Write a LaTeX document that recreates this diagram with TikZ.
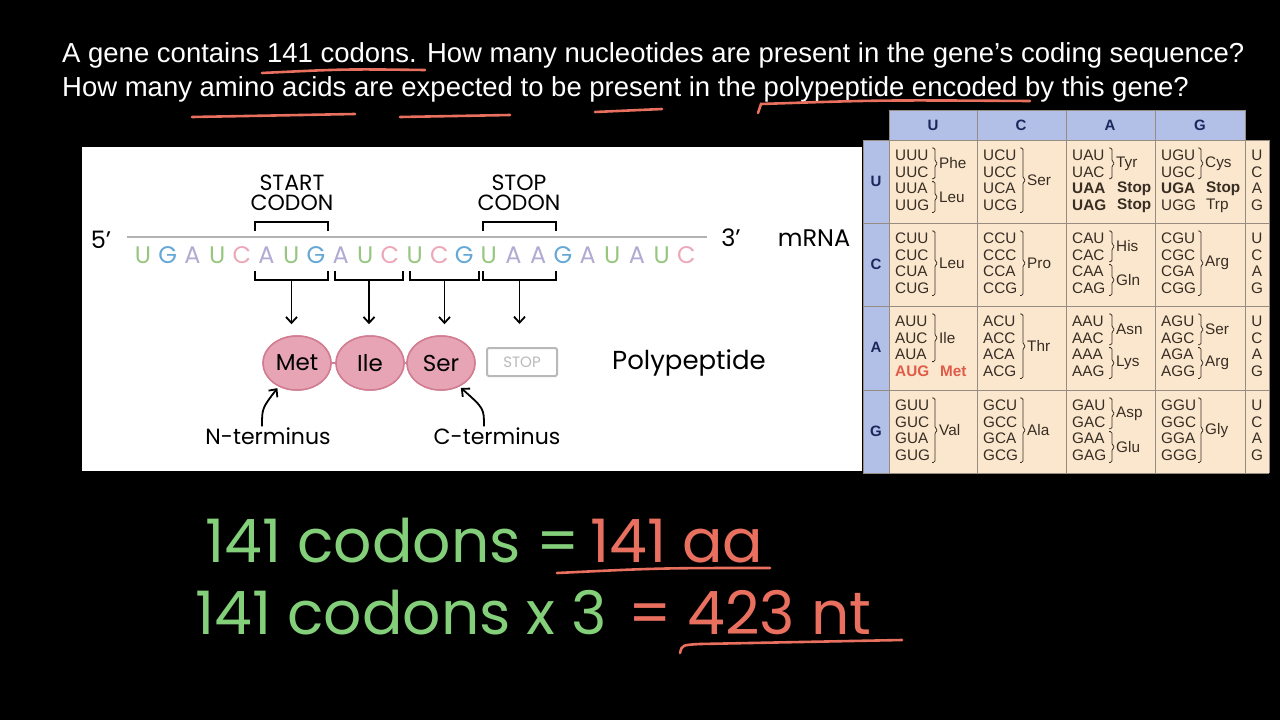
\documentclass[tikz,border=0pt]{standalone}
\usepackage{fontspec}
\setmainfont{Liberation Sans}
\newfontfamily\handfont{Poppins}
\usepackage{tikz}
\usetikzlibrary{arrows.meta,positioning,shapes.geometric}
\definecolor{hlred}{RGB}{233,112,95}
\definecolor{hlgreen}{RGB}{132,208,122}
\definecolor{ntU}{RGB}{150,198,128}
\definecolor{ntG}{RGB}{100,168,214}
\definecolor{ntA}{RGB}{178,170,210}
\definecolor{ntC}{RGB}{236,168,184}
\definecolor{aapink}{RGB}{230,164,180}
\definecolor{aaedge}{RGB}{210,124,146}
\definecolor{hdblue}{RGB}{178,192,232}
\definecolor{cellbg}{RGB}{251,231,206}
\definecolor{gridc}{RGB}{150,140,130}
\definecolor{navy}{RGB}{28,38,92}
\definecolor{tabtxt}{RGB}{55,45,35}
\definecolor{metred}{RGB}{222,92,72}

% one cell of the codon table: column x, row y, four codons
\newcommand{\codonset}[6]{%
  \foreach \cd [count=\k from 0] in {#3,#4,#5,#6}
    \node[cdn] (cd-#1-#2-\k) at ({#1+6},{#2+15+16.8*\k}) {\cd};}
% brace over lines #3..#4 with amino acid #5
\newcommand{\aagroup}[5]{%
  \pgfmathsetmacro\ya{#2+15+16.8*#3-7}
  \pgfmathsetmacro\yb{#2+15+16.8*#4+7}
  \pgfmathsetmacro\ym{(\ya+\yb)/2}
  \draw[brc] ({#1+43},\ya) -- ({#1+46},\ya) -- ({#1+46},\ym-2) -- ({#1+49},\ym)
    -- ({#1+46},\ym+2) -- ({#1+46},\yb) -- ({#1+43},\yb);
  \node[aa] (aa-#1-#2-#3) at ({#1+50},\ym) {#5};}
% amino acid on a single line
\newcommand{\aaline}[4]{%
  \node[aa] (aa-#1-#2-#3) at ({#1+51},{#2+15+16.8*#3}) {#4};}

\begin{document}
\begin{tikzpicture}[x=1pt,y=-1pt,
    qtext/.style={text=white,font=\fontsize{27.5}{30}\selectfont,anchor=base west,inner sep=0},
    hand/.style={font=\handfont\fontsize{22}{24}\selectfont,inner sep=1pt},
    nt/.style={font=\handfont\fontsize{24}{26}\selectfont,inner sep=0},
    hiline/.style={hlred,line width=2.6pt,line cap=round},
    brk/.style={line width=1.8pt},
    arr/.style={line width=1.8pt,-{Straight Barb[length=6pt,width=11pt]}},
    amino/.style={ellipse,fill=aapink,draw=aaedge,line width=1.5pt,minimum width=68pt,
      minimum height=54pt,inner sep=0,font=\handfont\fontsize{23}{24}\selectfont},
    cdn/.style={anchor=west,inner sep=0,text=tabtxt,font=\fontsize{15.3}{16}\selectfont},
    aa/.style={anchor=west,inner sep=0,text=tabtxt,font=\fontsize{15.3}{16}\selectfont},
    hdr/.style={text=navy,font=\bfseries\fontsize{15}{16}\selectfont,inner sep=0},
    brc/.style={tabtxt,line width=0.8pt,rounded corners=1.5pt},
    eqn/.style={font=\handfont\fontsize{60}{62}\selectfont,anchor=base west,inner sep=0}]
  \useasboundingbox (0,0) rectangle (1280,720);
  \fill[black] (0,0) rectangle (1280,720);

  % question
  \node[qtext] (q1) at (62,62) {A gene contains 141 codons. How many nucleotides are present in the gene’s coding sequence?};
  \node[qtext] (q2) at (62,96) {How many amino acids are expected to be present in the polypeptide encoded by this gene?};
  \draw[hiline] (262,73) .. controls (345,69) .. (425,70);
  \draw[hiline] (192,117) -- (355,114);
  \draw[hiline] (400,117) -- (510,115);
  \draw[hiline] (595,112) -- (662,109);
  \draw[hiline] (758,113) -- (761,104) .. controls (880,100) .. (1030,101);

  % mRNA panel
  \fill[white] (82,147) rectangle (862,471);
  \node[nt] (five) at (101,240) {5’};
  \node[nt] (three) at (731,238) {3’};
  \node[nt] (mrna) at (814,238) {mRNA};
  \draw[gray!60,line width=1.5pt] (127,237) -- (707,237);
  \foreach \ch/\cl [count=\i from 0] in {U/ntU,G/ntG,A/ntA,U/ntU,C/ntC,A/ntA,U/ntU,G/ntG,A/ntA,U/ntU,C/ntC,U/ntU,C/ntC,G/ntG,U/ntU,A/ntA,A/ntA,G/ntG,A/ntA,U/ntU,A/ntA,U/ntU,C/ntC}
    \node[nt,text=\cl] (l\i) at ({143+24.7*\i},255) {\ch};

  \node[hand,align=center] (start) at (292,193) {START\\[-4pt]CODON};
  \node[hand,align=center] (stop) at (519,193) {STOP\\[-4pt]CODON};
  \draw[brk] (255,231) -- (255,222) -- (328,222) -- (328,231);
  \draw[brk] (483,231) -- (483,222) -- (556,222) -- (556,231);

  \foreach \a/\b/\n in {255/328/1,335/403/2,410/479/3,483/556/4}{
    \draw[brk] (\a,271) -- (\a,280) -- (\b,280) -- (\b,271);
    \coordinate (b\n) at ({(\a+\b)/2},280);
  }

  \node[amino] (met) at (297,363) {Met};
  \node[amino] (ile) at (370,363) {Ile};
  \node[amino] (ser) at (441,363) {Ser};
  \draw[aaedge,line width=1.5pt] (met) -- (ile);
  \draw[aaedge,line width=1.5pt] (ile) -- (ser);
  \node[amino] (met) at (297,363) {Met};
  \node[amino] (ile) at (370,363) {Ile};
  \node[amino] (ser) at (441,363) {Ser};
  \node[draw=gray!55,text=gray!55,line width=2pt,rounded corners=1.5pt,minimum width=70pt,
    minimum height=28pt,font=\handfont\fontsize{15}{16}\selectfont] (stp) at (522,362) {STOP};
  \node[hand,font=\handfont\fontsize{26}{28}\selectfont] (poly) at (689,363) {Polypeptide};

  \draw[arr,shorten >=11pt] (b1) -- (b1 |- met.north);
  \draw[arr,shorten >=11pt] (b2) -- (b2 |- ile.north);
  \draw[arr,shorten >=11pt] (b3) -- (b3 |- ser.north);
  \draw[arr,shorten >=23pt] (b4) -- (b4 |- stp.north);

  \node[hand] (nterm) at (268,436) {N-terminus};
  \node[hand] (cterm) at (497,436) {C-terminus};
  \draw[arr,shorten >=2pt] ([xshift=-6pt]nterm.north) .. controls +(0,-18) .. (met.232);
  \draw[arr,shorten >=2pt] ([xshift=-13pt]cterm.north) .. controls +(0,-18) .. (ser.308);

  % codon table
  \fill[hdblue] (889,110) rectangle (1245,140);
  \fill[hdblue] (863,140) rectangle (889,473);
  \fill[cellbg] (889,140) rectangle (1269,473);
  \draw[gridc,line width=1pt] (889,110) -- (1245,110) -- (1245,140);
  \foreach \x in {889,977,1066,1155} \draw[gridc,line width=1pt] (\x,110) -- (\x,473);
  \draw[gridc,line width=1pt] (1245,140) -- (1245,473);
  \foreach \y in {140,223,306,390,473} \draw[gridc,line width=1pt] (863,\y) -- (1269,\y);
  \draw[gridc,line width=1pt] (863,140) -- (863,473);
  \draw[gridc,line width=1pt] (1269,140) -- (1269,473);

  \foreach \t/\x in {U/933,C/1021,A/1110,G/1200} \node[hdr] (h\t) at (\x,125) {\t};
  \foreach \t/\y in {U/140,C/223,A/306,G/390}{
    \node[hdr] (r\t) at (876,{\y+41}) {\t};
    \foreach \b [count=\k from 0] in {U,C,A,G}
      \node[cdn,anchor=center] (t\t\b) at (1257,{\y+15+16.8*\k}) {\b};
  }

  % first base U
  \codonset{889}{140}{UUU}{UUC}{UUA}{UUG}
  \aagroup{889}{140}{0}{1}{Phe} \aagroup{889}{140}{2}{3}{Leu}
  \codonset{977}{140}{UCU}{UCC}{UCA}{UCG}
  \aagroup{977}{140}{0}{3}{Ser}
  \codonset{1066}{140}{UAU}{UAC}{\bfseries UAA}{\bfseries UAG}
  \aagroup{1066}{140}{0}{1}{Tyr}
  \aaline{1066}{140}{2}{\bfseries Stop} \aaline{1066}{140}{3}{\bfseries Stop}
  \codonset{1155}{140}{UGU}{UGC}{\bfseries UGA}{UGG}
  \aagroup{1155}{140}{0}{1}{Cys}
  \aaline{1155}{140}{2}{\bfseries Stop} \aaline{1155}{140}{3}{Trp}
  % first base C
  \codonset{889}{223}{CUU}{CUC}{CUA}{CUG}
  \aagroup{889}{223}{0}{3}{Leu}
  \codonset{977}{223}{CCU}{CCC}{CCA}{CCG}
  \aagroup{977}{223}{0}{3}{Pro}
  \codonset{1066}{223}{CAU}{CAC}{CAA}{CAG}
  \aagroup{1066}{223}{0}{1}{His} \aagroup{1066}{223}{2}{3}{Gln}
  \codonset{1155}{223}{CGU}{CGC}{CGA}{CGG}
  \aagroup{1155}{223}{0}{3}{Arg}
  % first base A
  \codonset{889}{306}{AUU}{AUC}{AUA}{\color{metred}\bfseries AUG}
  \aagroup{889}{306}{0}{2}{Ile}
  \aaline{889}{306}{3}{\color{metred}\bfseries Met}
  \codonset{977}{306}{ACU}{ACC}{ACA}{ACG}
  \aagroup{977}{306}{0}{3}{Thr}
  \codonset{1066}{306}{AAU}{AAC}{AAA}{AAG}
  \aagroup{1066}{306}{0}{1}{Asn} \aagroup{1066}{306}{2}{3}{Lys}
  \codonset{1155}{306}{AGU}{AGC}{AGA}{AGG}
  \aagroup{1155}{306}{0}{1}{Ser} \aagroup{1155}{306}{2}{3}{Arg}
  % first base G
  \codonset{889}{390}{GUU}{GUC}{GUA}{GUG}
  \aagroup{889}{390}{0}{3}{Val}
  \codonset{977}{390}{GCU}{GCC}{GCA}{GCG}
  \aagroup{977}{390}{0}{3}{Ala}
  \codonset{1066}{390}{GAU}{GAC}{GAA}{GAG}
  \aagroup{1066}{390}{0}{1}{Asp} \aagroup{1066}{390}{2}{3}{Glu}
  \codonset{1155}{390}{GGU}{GGC}{GGA}{GGG}
  \aagroup{1155}{390}{0}{3}{Gly}

  % worked answer
  \node[eqn,text=hlgreen] (e1) at (205,562) {141 codons =};
  \node[eqn,text=hlred] (aa) at (590,562) {141 aa};
  \node[eqn,text=hlgreen] (e2) at (195,634) {141 codons x 3};
  \node[eqn,text=hlred] (nt) at (628,634) {= 423 nt};
  \draw[hiline] (557,573) .. controls (660,568) .. (770,568);
  \draw[hiline] (680,653) .. controls (682,645) .. (700,644) -- (902,640);
\end{tikzpicture}
\end{document}
